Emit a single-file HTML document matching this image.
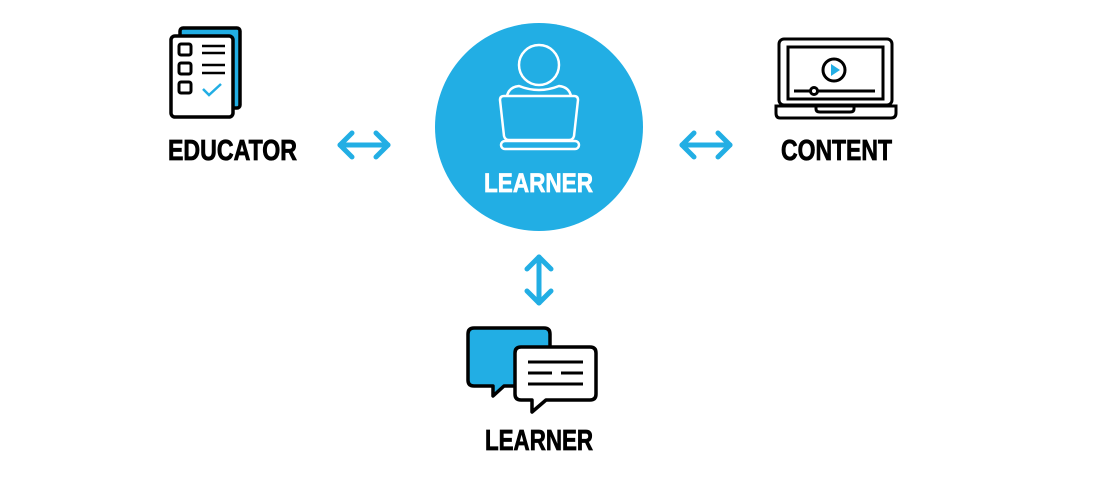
<!DOCTYPE html>
<html><head><meta charset="utf-8"><style>
html,body{margin:0;padding:0;background:#fff;}
svg{display:block;}
text{font-family:"Liberation Sans",sans-serif;font-weight:bold;}
</style></head><body>
<svg width="1100" height="488" viewBox="0 0 1100 488" xmlns="http://www.w3.org/2000/svg">
<!-- Educator icon -->
<rect x="180" y="28" width="60" height="80" rx="3" fill="#22aee4" stroke="#000" stroke-width="3.5"/>
<rect x="171" y="36" width="62" height="81" rx="4" fill="#fff" stroke="#000" stroke-width="3.5"/>
<rect x="179" y="44" width="12" height="11" rx="2" fill="none" stroke="#000" stroke-width="3"/>
<rect x="179" y="63" width="12" height="11" rx="2" fill="none" stroke="#000" stroke-width="3"/>
<rect x="179" y="82" width="12" height="11" rx="2" fill="none" stroke="#000" stroke-width="3"/>
<line x1="202" y1="46" x2="225" y2="46" stroke="#000" stroke-width="2.5"/>
<line x1="202" y1="53" x2="225" y2="53" stroke="#000" stroke-width="2.5"/>
<line x1="202" y1="65" x2="225" y2="65" stroke="#000" stroke-width="2.5"/>
<line x1="202" y1="73" x2="225" y2="73" stroke="#000" stroke-width="2.5"/>
<polyline points="203,89 209,95 221,84" fill="none" stroke="#22aee4" stroke-width="2.5"/>
<text x="168" y="160" font-size="29" textLength="129" lengthAdjust="spacingAndGlyphs" fill="#000" stroke="#000" stroke-width="0.8">EDUCATOR</text>

<!-- arrows -->
<g fill="none" stroke="#22aee4" stroke-width="5" stroke-linecap="round" stroke-linejoin="round">
<line x1="340" y1="145" x2="388" y2="145"/>
<polyline points="352,133 340,145 352,157"/>
<polyline points="376,133 388,145 376,157"/>
<line x1="682" y1="145" x2="730" y2="145"/>
<polyline points="694,133 682,145 694,157"/>
<polyline points="718,133 730,145 718,157"/>
<line x1="539" y1="257" x2="539" y2="303"/>
<polyline points="527,269 539,257 551,269"/>
<polyline points="527,291 539,303 551,291"/>
</g>

<!-- Learner circle -->
<circle cx="539" cy="127" r="104" fill="#22aee4"/>
<g fill="none" stroke="#fff" stroke-width="2.5">
<circle cx="539" cy="65" r="20"/>
<path d="M507,96 Q509,87 519,86 Q539,94 559,86 Q569,87 571,96"/>
<path d="M504,96 L574,96 Q578,96 578,100 L574,136 Q573,140 569,140 L509,140 Q505,140 504,136 L500,100 Q500,96 504,96 Z"/>
<rect x="501" y="141" width="78" height="8" rx="4"/>
</g>
<text x="484" y="192" font-size="27" textLength="109" lengthAdjust="spacingAndGlyphs" fill="#fff" stroke="#fff" stroke-width="0.7">LEARNER</text>

<!-- Content laptop -->
<g fill="none" stroke="#000" stroke-width="3">
<rect x="779" y="39" width="113" height="66" rx="5"/>
<rect x="788" y="47" width="95" height="52"/>
<path d="M776,106 L896,106 L896,113 Q896,118 891,118 L780,118 Q776,118 776,113 Z"/>
<path d="M816,106 L816,109 Q816,112 820,112 L850,112 Q854,112 854,109 L854,106"/>
<circle cx="834" cy="70" r="11"/>
<line x1="794" y1="91" x2="810" y2="91"/>
<line x1="818" y1="91" x2="875" y2="91"/>
<circle cx="814" cy="91" r="3.5"/>
</g>
<polygon points="831,64 831,76 840,70" fill="#22aee4"/>
<text x="781" y="160" font-size="29" textLength="111" lengthAdjust="spacingAndGlyphs" fill="#000" stroke="#000" stroke-width="0.8">CONTENT</text>

<!-- Speech bubbles -->
<path d="M474,328 L544,328 Q550,328 550,334 L550,380 Q550,386 544,386 L504,386 L493,396 L493,386 L474,386 Q468,386 468,380 L468,334 Q468,328 474,328 Z" fill="#22aee4" stroke="#000" stroke-width="3.5" stroke-linejoin="round"/>
<path d="M521,347 L590,347 Q596,347 596,353 L596,394 Q596,400 590,400 L546,400 L532,412 L532,400 L521,400 Q515,400 515,394 L515,353 Q515,347 521,347 Z" fill="#fff" stroke="#000" stroke-width="3.5" stroke-linejoin="round"/>
<g stroke="#000" stroke-width="3">
<line x1="528" y1="362" x2="583" y2="362"/>
<line x1="528" y1="373" x2="552" y2="373"/>
<line x1="561" y1="373" x2="583" y2="373"/>
<line x1="528" y1="384" x2="583" y2="384"/>
</g>
<text x="485" y="450" font-size="29" textLength="108" lengthAdjust="spacingAndGlyphs" fill="#000" stroke="#000" stroke-width="0.8">LEARNER</text>
</svg>
</body></html>
